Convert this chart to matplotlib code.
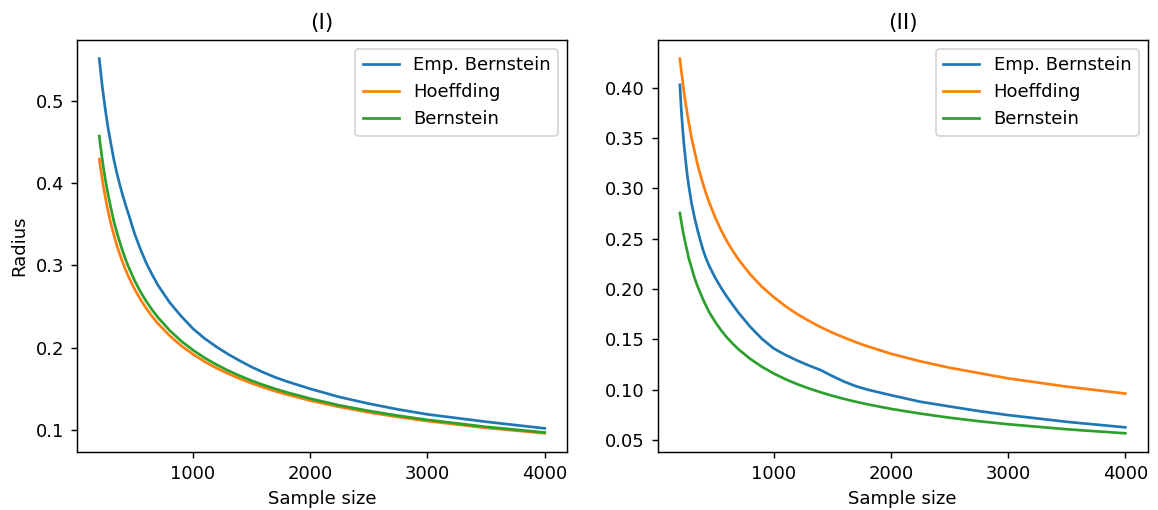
import matplotlib
matplotlib.use("Agg")
import matplotlib.pyplot as plt
from matplotlib.ticker import MultipleLocator

sample_sizes = [200, 212, 225, 237, 250, 262, 275, 300, 325, 350, 375, 400, 425, 450,
                500, 550, 600, 650, 700, 800, 900, 1000, 1100, 1200, 1300, 1400, 1500,
                1600, 1700, 1800, 2000, 2250, 2500, 2750, 3000, 3500, 4000]

# Panel (I)
emp_bernstein_1 = [0.551, 0.535, 0.518, 0.505, 0.491, 0.479, 0.467, 0.447, 0.428, 0.412,
                   0.398, 0.385, 0.373, 0.362, 0.339, 0.320, 0.303, 0.289, 0.276, 0.255,
                   0.238, 0.223, 0.211, 0.201, 0.192, 0.184, 0.1765, 0.170, 0.164, 0.159,
                   0.150, 0.140, 0.132, 0.125, 0.119, 0.110, 0.102]
hoeffding_1 = [0.429, 0.417, 0.405, 0.394, 0.384, 0.375, 0.366, 0.350, 0.337, 0.324,
               0.3135, 0.3035, 0.2944, 0.2861, 0.2715, 0.2588, 0.2478, 0.2381, 0.2294, 0.2146,
               0.2023, 0.1920, 0.1830, 0.1752, 0.1684, 0.1622, 0.1567, 0.1518, 0.1472, 0.1431,
               0.1357, 0.1280, 0.1214, 0.1158, 0.1108, 0.1026, 0.0960]
bernstein_1 = [0.457, 0.443, 0.429, 0.417, 0.406, 0.396, 0.386, 0.369, 0.353, 0.340,
               0.328, 0.317, 0.307, 0.298, 0.2820, 0.2683, 0.2565, 0.2461, 0.2368, 0.2210,
               0.2079, 0.1970, 0.1875, 0.1794, 0.1721, 0.1657, 0.1599, 0.1547, 0.1500, 0.1457,
               0.1381, 0.1299, 0.1232, 0.1174, 0.1123, 0.1038, 0.0970]

# Panel (II)
emp_bernstein_2 = [0.403, 0.378, 0.357, 0.341, 0.327, 0.314, 0.303, 0.285, 0.271, 0.259,
                   0.248, 0.238, 0.230, 0.223, 0.2115, 0.2015, 0.1925, 0.1845, 0.1765, 0.1625,
                   0.1505, 0.1410, 0.1345, 0.1290, 0.1240, 0.1195, 0.1135, 0.1080, 0.1035, 0.1000,
                   0.0945, 0.0880, 0.0833, 0.0787, 0.0747, 0.0680, 0.0625]
hoeffding_2 = [0.429, 0.417, 0.405, 0.394, 0.384, 0.375, 0.366, 0.350, 0.337, 0.324,
               0.3135, 0.3035, 0.2944, 0.2861, 0.2715, 0.2588, 0.2478, 0.2381, 0.2294, 0.2146,
               0.2023, 0.1920, 0.1830, 0.1752, 0.1684, 0.1622, 0.1567, 0.1518, 0.1472, 0.1431,
               0.1357, 0.1282, 0.1218, 0.1165, 0.1112, 0.1030, 0.0961]
bernstein_2 = [0.2756, 0.267, 0.258, 0.251, 0.244, 0.238, 0.231, 0.221, 0.211, 0.203,
               0.196, 0.189, 0.183, 0.177, 0.1675, 0.1593, 0.1520, 0.1458, 0.1401, 0.1306,
               0.1227, 0.1161, 0.1104, 0.1055, 0.1012, 0.0974, 0.0939, 0.0908, 0.0880, 0.0854,
               0.0809, 0.0762, 0.0721, 0.0686, 0.0656, 0.0606, 0.0566]

titles = ["(I)", "(II)"]
labels = ["Emp. Bernstein", "Hoeffding", "Bernstein"]
colors = ["#1f77b4", "#ff7f0e", "#2ca02c"]

DPI = 130
fig, axes = plt.subplots(1, 2, figsize=(1158 / DPI, 510 / DPI), dpi=DPI)
fig.subplots_adjust(left=0.0665, right=0.991, bottom=0.1137, top=0.9216, wspace=0.185)

panels = [(emp_bernstein_1, hoeffding_1, bernstein_1),
          (emp_bernstein_2, hoeffding_2, bernstein_2)]

for ax, title, series in zip(axes, titles, panels):
    for ys, lab, col in zip(series, labels, colors):
        ax.plot(sample_sizes, ys, color=col, label=lab, linewidth=1.5)
    ax.set_title(title)
    ax.set_xlabel("Sample size")
    ax.xaxis.set_major_locator(MultipleLocator(1000))
    ax.legend(loc="upper right")

axes[0].set_ylabel("Radius")

fig.savefig("out.png", dpi=DPI)
